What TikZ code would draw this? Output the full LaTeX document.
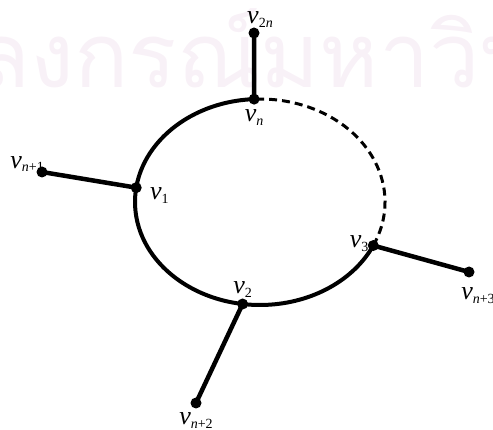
\documentclass[tikz,border=0pt]{standalone}
\usepackage{fontspec}
\setmainfont{Liberation Serif}
\newfontfamily\thaifont[Script=Thai]{Loma}
\usetikzlibrary{positioning}

\definecolor{wmark}{RGB}{248,241,247}
\newcommand{\vtx}[1]{\textit{v}\raisebox{-0.3ex}{\fontsize{14}{14}\selectfont #1}}

\begin{document}
\begin{tikzpicture}[x=1pt,y=1pt,
  dot/.style={circle,fill=black,inner sep=0pt,minimum size=11pt},
  lab/.style={font=\fontsize{26}{26}\selectfont,inner sep=0pt},
  spoke/.style={line width=4.5pt},
  ring/.style={line width=4pt}]
  \useasboundingbox (0,0) rectangle (493,-430);
  % faint watermark behind the graph
  \begin{scope}
    \clip (0,0) rectangle (493,-430);
    \node[anchor=base west,inner sep=0pt,text=wmark,font=\thaifont\fontsize{90}{90}\selectfont] (wm) at (-25,-88) {ลงกรณ์มหาวิทยาลัย};
  \end{scope}
  \coordinate (o) at (260,-202);
  \path (o) ++(92.7:125 and 103) node[dot] (vn) {};
  \path (o) ++(172:125 and 103) node[dot] (v1) {};
  \path (o) ++(262:125 and 103) node[dot] (v2) {};
  \path (o) ++(335:125 and 103) node[dot] (v3) {};
  \node[dot] (v2n) at (254,-33) {};
  \node[dot] (vn1) at (42,-172) {};
  \node[dot] (vn2) at (196,-403) {};
  \node[dot] (vn3) at (469,-272) {};
  % cycle: solid part and dashed part
  \draw[ring] (vn.center) arc[start angle=92.7,end angle=335,x radius=125pt,y radius=103pt];
  \draw[ring,line width=3pt,dash pattern=on 8pt off 5pt] (v3.center) arc[start angle=-25,end angle=92.7,x radius=125pt,y radius=103pt];
  \foreach \a/\b in {vn/v2n, v1/vn1, v2/vn2, v3/vn3} {\draw[spoke] (\a.center) -- (\b.center);}
  % labels
  \node[lab, above=0pt of v2n, xshift=6pt] {\vtx{2\textit{n}}};
  \node[lab, below=5pt of vn] {\vtx{\textit{n}}};
  \node[lab, right=8pt of v1, yshift=-8pt] {\vtx{1}};
  \node[lab, above=1pt of v2] {\vtx{2}};
  \node[lab, left=-1pt of v3, yshift=2pt] {\vtx{3}};
  \node[lab, above left=-4pt and -6pt of vn1] {\vtx{\textit{n}+1}};
  \node[lab, below=4pt of vn2] {\vtx{\textit{n}+2}};
  \node[lab, below=10pt of vn3, xshift=9pt] {\vtx{\textit{n}+3}};
\end{tikzpicture}
\end{document}
